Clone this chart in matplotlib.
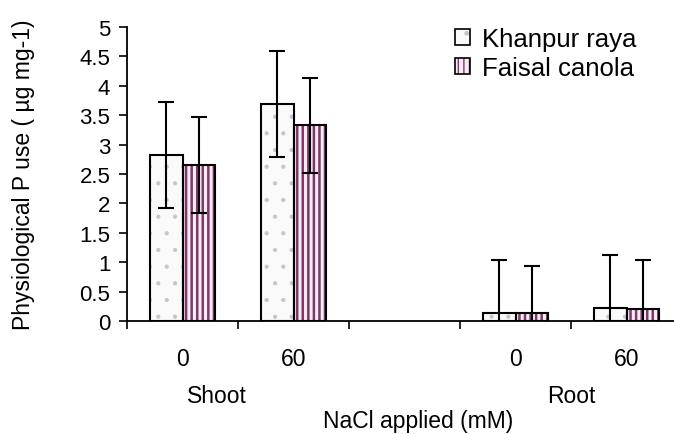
import matplotlib
matplotlib.use("Agg")
import matplotlib.pyplot as plt
import numpy as np
from matplotlib.patches import Patch
from matplotlib.transforms import blended_transform_factory

plt.rcParams['font.family'] = ['Liberation Sans', 'DejaVu Sans']

# ---- data ----
categories = ["0", "60", "", "0", "60"]
groups = ["Shoot", "Root"]
series_names = ["Khanpur raya", "Faisal canola"]
khanpur = [2.82, 3.69, np.nan, 0.14, 0.22]
faisal = [2.65, 3.33, np.nan, 0.13, 0.20]
khanpur_err = [0.90, 0.90, np.nan, 0.90, 0.90]
faisal_err = [0.82, 0.81, np.nan, 0.81, 0.83]

W, H = 674, 435
fig = plt.figure(figsize=(W / 100, H / 100), dpi=100)
ax = fig.add_axes([127 / W, 113 / H, 555 / W, 294 / H])

x = np.arange(len(categories))
bw = 0.29
stripe = '#7a3c66'
pink = '#fbeaf6'
dotc = '#c4c4d4'

with plt.rc_context({'hatch.linewidth': 0.6}):
    ax.bar(x - bw / 2, khanpur, bw, color='#fafafa', edgecolor=dotc, hatch='.', linewidth=0, zorder=2)
    h1a = Patch(facecolor='#fafafa', edgecolor=dotc, hatch='.', linewidth=0)
ax.bar(x - bw / 2, khanpur, bw, fill=False, edgecolor='black', linewidth=1.5, zorder=3)
with plt.rc_context({'hatch.linewidth': 1.8}):
    ax.bar(x + bw / 2, faisal, bw, color=pink, edgecolor=stripe, hatch='|||', linewidth=0, zorder=2)
    h2a = Patch(facecolor=pink, edgecolor=stripe, hatch='|||', linewidth=0)
ax.bar(x + bw / 2, faisal, bw, fill=False, edgecolor='black', linewidth=1.5, zorder=3)

ax.errorbar(x - bw / 2, khanpur, yerr=khanpur_err, fmt='none', ecolor='black',
            elinewidth=1.5, capsize=5.5, capthick=1.5, zorder=4)
ax.errorbar(x + bw / 2, faisal, yerr=faisal_err, fmt='none', ecolor='black',
            elinewidth=1.5, capsize=5.5, capthick=1.5, zorder=4)

ax.set_xlim(-0.5, len(categories) - 0.5)
ax.set_ylim(0, 5)
yt = np.arange(0, 5.01, 0.5)
ax.set_yticks(yt)
ax.set_yticklabels([f"{v:g}" for v in yt])
ax.tick_params(axis='y', direction='out', length=6, width=1.2, labelsize=16, pad=6)

ax.set_xticks(x)
ax.set_xticklabels(categories)
ax.set_xticks(np.arange(-0.5, len(categories)), minor=True)
ax.tick_params(axis='x', which='major', length=0, labelsize=16.5, pad=19)
ax.tick_params(axis='x', which='minor', direction='out', length=6, width=1.2)

for s in ['top', 'right']:
    ax.spines[s].set_visible(False)
for s in ['left', 'bottom']:
    ax.spines[s].set_linewidth(1.3)

ax.set_ylabel("Physiological P use ( µg mg-1)", fontsize=16.5)
ax.yaxis.set_label_coords(-0.165, 0.5)

tr = blended_transform_factory(ax.transData, fig.transFigure)
ax.text(0.31, 1 - 397 / H, groups[0], transform=tr, ha='center', va='center', fontsize=16.5, clip_on=False)
ax.text(3.5, 1 - 397 / H, groups[1], transform=tr, ha='center', va='center', fontsize=16.5, clip_on=False)
ax.text(2.12, 1 - 422 / H, "NaCl applied (mM)", transform=tr, ha='center', va='center', fontsize=16.5, clip_on=False)

h1 = (h1a, Patch(fill=False, edgecolor='black', linewidth=1.2))
h2 = (h2a, Patch(fill=False, edgecolor='black', linewidth=1.2))
leg = fig.legend([h1, h2], series_names, loc='upper left',
                 bbox_to_anchor=(442 / W, 1 - 15 / H), frameon=False, fontsize=18.5,
                 handlelength=0.6, handleheight=0.6, handletextpad=0.45, labelspacing=0.2,
                 borderpad=0)

fig.savefig("out.png", dpi=100)
